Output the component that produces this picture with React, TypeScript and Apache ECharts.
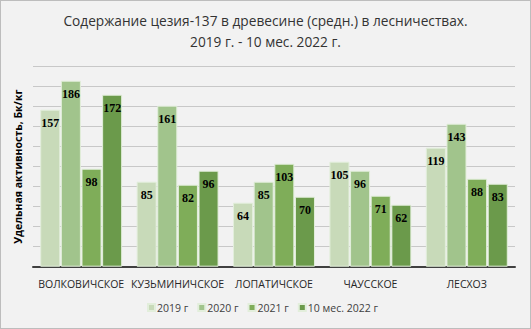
import React, { useEffect, useRef } from "react";
import * as echarts from "echarts";

const categories = ["ВОЛКОВИЧСКОЕ", "КУЗЬМИНИЧСКОЕ", "ЛОПАТИЧСКОЕ", "ЧАУССКОЕ", "ЛЕСХОЗ"];
const seriesNames = ["2019 г", "2020 г", "2021 г", "10 мес. 2022 г"];
const values2019 = [157, 85, 64, 105, 119];
const values2020 = [186, 161, 85, 96, 143];
const values2021 = [98, 82, 103, 71, 88];
const values2022 = [172, 96, 70, 62, 83];
const colors = ["#c8dab9", "#a1c48c", "#7fad59", "#6b9a4b"];

export default function App() {
  const ref = useRef<HTMLDivElement>(null);
  useEffect(() => {
    if (!ref.current) return;
    const chart = echarts.init(ref.current, null, { renderer: "svg" });
    const data = [values2019, values2020, values2021, values2022];
    chart.setOption({
      animation: false,
      backgroundColor: "#f2f2f2",
      title: {
        text: "Содержание цезия-137 в древесине (средн.) в лесничествах.\n2019 г. - 10 мес. 2022 г.",
        left: "center",
        top: 4,
        textStyle: {
          fontFamily: "Open Sans",
          fontSize: 13.7,
          fontWeight: "normal",
          color: "#333",
          lineHeight: 21,
        },
      },
      legend: {
        bottom: 10,
        left: 141,
        itemWidth: 7,
        itemHeight: 7,
        itemGap: 9,
        icon: "rect",
        textStyle: { fontFamily: "Open Sans", fontSize: 10.5, color: "#404040", padding: [0, 0, 0, -3] },
        data: seriesNames,
      },
      grid: { left: 32, right: 15, top: 65.7, bottom: 61.3 },
      xAxis: {
        type: "category",
        data: categories,
        axisLine: { lineStyle: { color: "#404040", width: 2 } },
        axisTick: { show: false },
        axisLabel: { fontFamily: "Open Sans", fontSize: 10.5, color: "#262626", margin: 12, interval: 0 },
      },
      yAxis: {
        type: "value",
        min: 0,
        max: 200,
        interval: 20,
        name: "Удельная активность, Бк/кг",
        nameLocation: "middle",
        nameGap: 10,
        nameTextStyle: { fontFamily: "Open Sans", fontSize: 10.5, fontWeight: "bold", color: "#000" },
        axisLabel: { show: false },
        axisLine: { show: false },
        axisTick: { show: false },
        splitLine: { lineStyle: { color: "#c8c8c8", width: 1 } },
      },
      series: seriesNames.map((name, i) => ({
        name,
        type: "bar",
        data: data[i],
        barCategoryGap: "15%",
        barGap: "3%",
        itemStyle: { color: colors[i], borderColor: "#e2eedb", borderWidth: 1 },
        label: {
          show: true,
          position: "insideTop",
          distance: 7,
          fontFamily: "Liberation Serif",
          fontWeight: "bold",
          fontSize: 12,
          color: "#000",
        },
      })),
    });
    return () => chart.dispose();
  }, []);
  return (
    <div
      ref={ref}
      style={{
        position: "fixed",
        left: 0,
        top: 0,
        width: 531,
        height: 329,
        boxSizing: "border-box",
        border: "1px solid #bdbdbd",
      }}
    />
  );
}
